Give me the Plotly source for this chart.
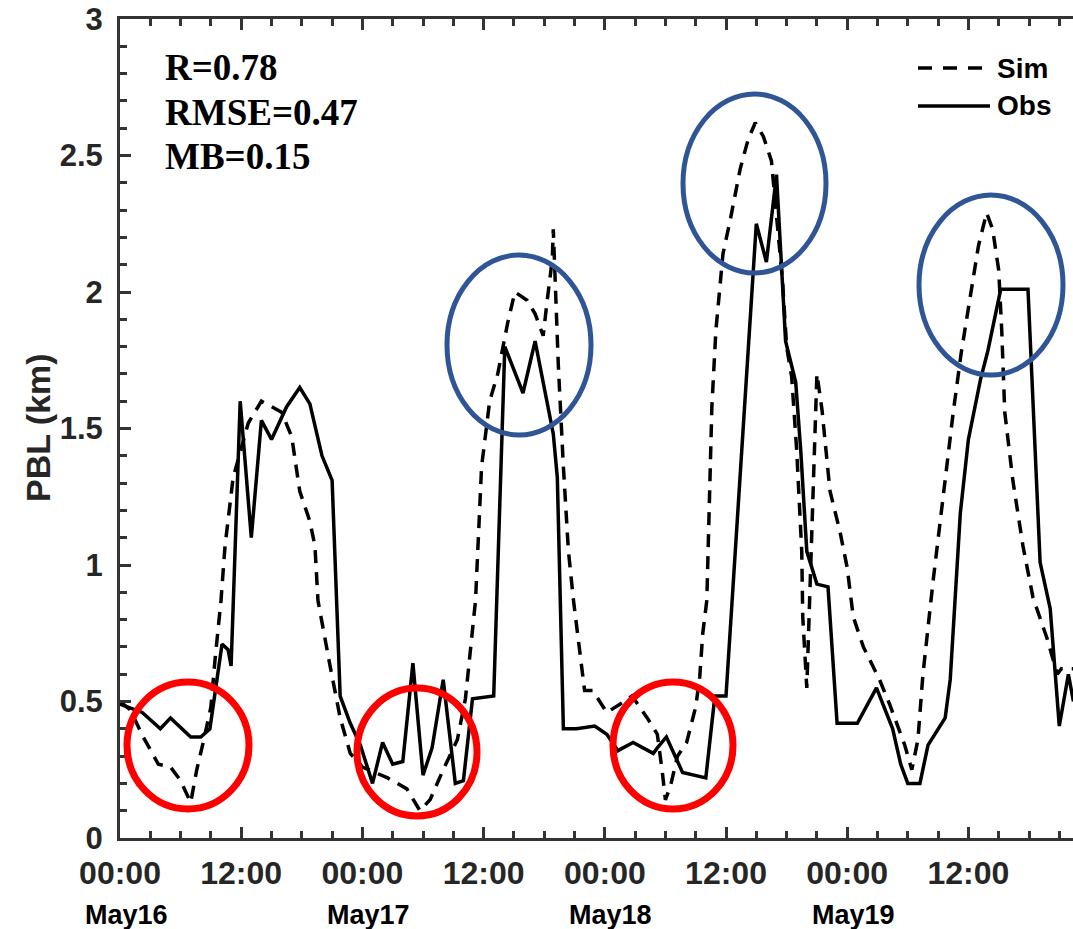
import plotly.graph_objects as go

# ---------------- data (hours since May16 00:00, PBL in km) ----------------
obs_hours = [0, 2.2, 4, 5, 7, 8, 8.9, 10.1, 10.7, 11.0, 11.9, 13.0, 14.0, 15.0, 16.5, 17.8,
             18.8, 20.0, 21.0, 21.8, 22.8, 23.8, 25.0, 26.0, 27.0, 28.0, 29.0, 30.0, 30.9,
             32.0, 33.2, 34.0, 34.9, 37.0, 38.1, 39.9, 41.1, 42.9, 43.3, 43.9, 45.2, 47.0,
             48.2, 49.3, 50.8, 52.8, 53.2, 54.1, 55.7, 58.0, 58.9, 60.0, 63.0, 64.0, 65.0,
             65.9, 66.9, 67.4, 68.0, 69.0, 70.1, 70.8, 71.0, 73.0, 74.9, 76.5, 77.3, 78.0,
             79.2, 80.0, 81.7, 82.2, 83.2, 84.0, 85.2, 85.9, 87.2, 89.9, 91.1, 92.1, 93.0,
             93.9, 94.4]
obs_pbl = [0.49, 0.46, 0.40, 0.44, 0.37, 0.37, 0.40, 0.71, 0.69, 0.63, 1.60, 1.10, 1.53, 1.46,
           1.58, 1.65, 1.59, 1.40, 1.31, 0.52, 0.42, 0.34, 0.20, 0.35, 0.27, 0.28, 0.64, 0.23,
           0.33, 0.58, 0.20, 0.21, 0.51, 0.52, 1.80, 1.63, 1.82, 1.48, 1.32, 0.40, 0.40, 0.41,
           0.38, 0.32, 0.35, 0.31, 0.33, 0.37, 0.24, 0.22, 0.52, 0.52, 2.25, 2.11, 2.43, 1.82,
           1.67, 1.42, 1.05, 0.93, 0.92, 0.51, 0.42, 0.42, 0.55, 0.40, 0.27, 0.20, 0.20, 0.34,
           0.44, 0.58, 1.19, 1.46, 1.68, 1.78, 2.01, 2.01, 1.01, 0.84, 0.41, 0.60, 0.50]

sim_hours = [0, 1, 2.3, 3.8, 5, 6, 7, 7.6, 8.3, 9, 9.4, 10, 10.4, 11.2, 12.7, 14, 16, 17, 17.8,
             18.8, 19.3, 19.6, 20.8, 21.8, 22.8, 24, 26.5, 28.4, 29.7, 30.7, 32, 33.4, 34.2,
             34.9, 35.2, 35.8, 36.6, 37.4, 38.4, 39.1, 40.3, 41.1, 41.9, 42.3, 42.8, 42.9,
             43.4, 43.9, 44.4, 44.9, 45.7, 46.0, 46.8, 48.2, 49.5, 50.7, 52.2, 53.2, 53.7,
             54.0, 54.5, 55.2, 56.1, 57.0, 57.4, 57.7, 58.1, 58.6, 59.0, 59.7, 60.4, 61.4,
             62.2, 62.9, 63.7, 64.5, 65.6, 66.0, 66.5, 67.0, 67.5, 67.6, 68.0, 69.0, 69.5,
             70.3, 71.3, 72.0, 72.6, 73.6, 75.2, 76.2, 77.7, 78.4, 79.0, 79.5, 80.5, 81.5,
             82.5, 83.3, 84.2, 85.0, 85.8, 86.4, 87.0, 87.3, 87.6, 88.4, 89.4, 90.4, 91.8,
             92.8, 93.2, 94.4]
sim_pbl = [0.50, 0.47, 0.37, 0.27, 0.26, 0.21, 0.13, 0.25, 0.36, 0.48, 0.65, 0.87, 1.07, 1.32,
           1.52, 1.60, 1.56, 1.47, 1.27, 1.16, 1.07, 0.87, 0.63, 0.44, 0.31, 0.26, 0.22, 0.18,
           0.10, 0.14, 0.25, 0.36, 0.51, 0.75, 0.87, 1.36, 1.60, 1.70, 1.89, 2.00, 1.97, 1.92,
           1.84, 1.97, 2.12, 2.23, 1.73, 1.36, 1.05, 0.87, 0.63, 0.54, 0.54, 0.46, 0.49, 0.52,
           0.44, 0.38, 0.24, 0.14, 0.19, 0.30, 0.35, 0.48, 0.59, 0.75, 0.87, 1.58, 1.86, 2.14,
           2.26, 2.45, 2.56, 2.62, 2.57, 2.48, 2.04, 1.80, 1.69, 1.42, 1.05, 0.81, 0.55, 1.70,
           1.57, 1.27, 1.12, 0.99, 0.81, 0.70, 0.58, 0.49, 0.34, 0.25, 0.36, 0.60, 0.94, 1.25,
           1.56, 1.78, 1.98, 2.17, 2.29, 2.23, 2.08, 1.86, 1.56, 1.31, 1.07, 0.88, 0.73, 0.60,
           0.62, 0.62]

tick_hours = [0, 12, 24, 36, 48, 60, 72, 84]
tick_text = ["00:00", "12:00", "00:00", "12:00", "00:00", "12:00", "00:00", "12:00"]
day_hours = [0, 24, 48, 72]
day_labels = ["May16", "May17", "May18", "May19"]
stats_text = ["R=0.78", "RMSE=0.47", "MB=0.15"]

# ---------------- layout helpers (pixel -> paper) ----------------
W, H = 1073, 929
L, R, T, B = 120, 0, 19, 91
PW, PH = W - L - R, H - T - B


def px(x):
    return (x - L) / PW


def py(y):
    return (H - B - y) / PH


AX = "#333333"
fig = go.Figure()
fig.add_trace(go.Scatter(x=sim_hours, y=sim_pbl, mode="lines", name="Sim",
                         line=dict(color="black", width=3.5, dash="13px,9px")))
fig.add_trace(go.Scatter(x=obs_hours, y=obs_pbl, mode="lines", name="Obs",
                         line=dict(color="black", width=3.5)))

tickfont = dict(family="Arial", size=32, color="#262626", weight="bold")
fig.update_xaxes(range=[0, PW / 10.1], tickmode="array", tickvals=tick_hours, ticktext=tick_text,
                 ticks="inside", ticklen=11, tickwidth=2.5, tickcolor=AX,
                 showline=True, linecolor=AX, linewidth=3, mirror="ticks",
                 showgrid=False, zeroline=False, tickfont=tickfont, ticklabelstandoff=5,
                 minor=dict(tickmode="linear", tick0=0, dtick=3, ticks="inside", ticklen=7,
                            tickwidth=2.5, tickcolor=AX, showgrid=False))
fig.update_yaxes(range=[0, 3], dtick=0.5, tick0=0,
                 ticks="inside", ticklen=11, tickwidth=2.5, tickcolor=AX,
                 showline=True, linecolor=AX, linewidth=3, mirror=False,
                 showgrid=False, zeroline=False,
                 tickfont=dict(family="Arial", size=31, color="#262626", weight="bold"),
                 ticklabelstandoff=8,
                 minor=dict(tickmode="linear", tick0=0, dtick=0.1, ticks="inside", ticklen=7,
                            tickwidth=2.5, tickcolor=AX, showgrid=False))

annotations = []
for h, lab in zip(day_hours, day_labels):
    annotations.append(dict(x=h, xref="x", xshift=6, y=py(915), yref="paper", text=lab,
                            showarrow=False, xanchor="center", yanchor="middle",
                            font=dict(family="Arial", size=27, color="black", weight="bold")))
annotations.append(dict(x=px(38), y=py(428), xref="paper", yref="paper", text="PBL (km)",
                        textangle=-90, showarrow=False, xanchor="center", yanchor="middle",
                        font=dict(family="Arial", size=34, color="#262626", weight="bold")))
for i, s in enumerate(stats_text):
    annotations.append(dict(x=px(163), y=py(67 + 45 * i), xref="paper", yref="paper", text=s,
                            showarrow=False, xanchor="left", yanchor="middle",
                            font=dict(family="Liberation Serif, Times New Roman", size=37,
                                      color="black", weight="bold")))
for i, s in enumerate(["Sim", "Obs"]):
    annotations.append(dict(x=px(995), y=py(68 + 38 * i), xref="paper", yref="paper", text=s,
                            showarrow=False, xanchor="left", yanchor="middle",
                            font=dict(family="Arial", size=28, color="black", weight="bold")))

shapes = []
# legend samples
shapes.append(dict(type="line", xref="paper", yref="paper", x0=px(918), x1=px(990),
                   y0=py(68), y1=py(68), line=dict(color="black", width=3.5, dash="14px,11px")))
shapes.append(dict(type="line", xref="paper", yref="paper", x0=px(918), x1=px(990),
                   y0=py(106), y1=py(106), line=dict(color="black", width=3.5)))
# red circles
for (x0, x1, y0, y1) in [(127, 249, 682, 809), (357, 477, 688, 816), (613, 733, 682, 809)]:
    shapes.append(dict(type="circle", xref="paper", yref="paper", x0=px(x0), x1=px(x1),
                       y0=py(y1), y1=py(y0), line=dict(color="#FF0000", width=7)))
# blue ellipses
for (x0, x1, y0, y1) in [(447, 591, 255, 435), (683, 826, 94, 273), (919, 1063, 195, 375)]:
    shapes.append(dict(type="circle", xref="paper", yref="paper", x0=px(x0), x1=px(x1),
                       y0=py(y1), y1=py(y0), line=dict(color="#2F5597", width=5)))

fig.update_layout(width=W, height=H, margin=dict(l=L, r=R, t=T, b=B, pad=0),
                  plot_bgcolor="white", paper_bgcolor="white", showlegend=False,
                  annotations=annotations, shapes=shapes)

fig.write_html("out.html")
